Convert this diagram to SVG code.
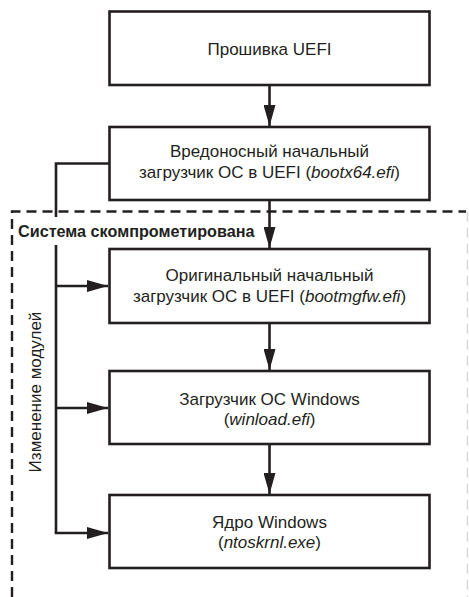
<svg xmlns="http://www.w3.org/2000/svg" width="469" height="597" viewBox="0 0 469 597">
<defs>
<style>
.box{fill:#fff;stroke:#231f20;stroke-width:2.6}
.t{font-family:'Liberation Sans Narrow','Liberation Sans',sans-serif;font-size:17px;fill:#231f20;text-anchor:middle}
.b{font-weight:bold;text-anchor:start;font-size:16.2px}
.ln{fill:none;stroke:#231f20;stroke-width:2.6}
.dash{fill:none;stroke:#231f20;stroke-width:2.4;stroke-dasharray:10 6}
</style>
<marker id="ah" markerUnits="userSpaceOnUse" markerWidth="21" markerHeight="12" refX="21" refY="6" orient="auto">
<path d="M0,0 L21,6 L0,12 z" fill="#231f20"/>
</marker>
</defs>
<g id="frame">
<path class="dash" d="M12,597 V211.5 H466"/>
<path d="M467.5,211.5 V597" fill="none" stroke="#d8d8d8" stroke-width="1.5" stroke-dasharray="10 6"/>
</g>
<g id="connectors">
<path class="ln" d="M269.5,85 V126" marker-end="url(#ah)"/>
<path class="ln" d="M269.5,200 V248" marker-end="url(#ah)"/>
<path class="ln" d="M269.5,323 V370" marker-end="url(#ah)"/>
<path class="ln" d="M269.5,444 V494" marker-end="url(#ah)"/>
<path class="ln" d="M109,163.5 H56 V533"/>
<path class="ln" d="M56,286 H108" marker-end="url(#ah)"/>
<path class="ln" d="M56,408 H108" marker-end="url(#ah)"/>
<path class="ln" d="M54.7,533 H108" marker-end="url(#ah)"/>
</g>
<g id="label-compromised">
<rect x="15" y="217" width="237" height="28" fill="#fff"/>
<text class="t b" x="18" y="237">Система скомпрометирована</text>
</g>
<g id="label-modules">
<text class="t" transform="translate(41,392) rotate(-90)">Изменение модулей</text>
</g>
<g id="n1">
<rect class="box" x="109.5" y="11.5" width="320" height="73.5"/>
<text class="t" x="269.5" y="55">Прошивка UEFI</text>
</g>
<g id="n2">
<rect class="box" x="109.5" y="127" width="320" height="73"/>
<text class="t" x="269.5" y="157">Вредоносный начальный</text>
<text class="t" x="269.5" y="178">загрузчик ОС в UEFI (<tspan font-style="italic">bootx64.efi</tspan>)</text>
</g>
<g id="n3">
<rect class="box" x="109.5" y="249" width="320" height="74"/>
<text class="t" x="269.5" y="281">Оригинальный начальный</text>
<text class="t" x="269.5" y="302">загрузчик ОС в UEFI (<tspan font-style="italic">bootmgfw.efi</tspan>)</text>
</g>
<g id="n4">
<rect class="box" x="109.5" y="371" width="320" height="73"/>
<text class="t" x="269.5" y="405">Загрузчик ОС Windows</text>
<text class="t" x="269.5" y="425">(<tspan font-style="italic">winload.efi</tspan>)</text>
</g>
<g id="n5">
<rect class="box" x="109.5" y="495" width="320" height="73"/>
<text class="t" x="269.5" y="528">Ядро Windows</text>
<text class="t" x="269.5" y="548">(<tspan font-style="italic">ntoskrnl.exe</tspan>)</text>
</g>
</svg>
